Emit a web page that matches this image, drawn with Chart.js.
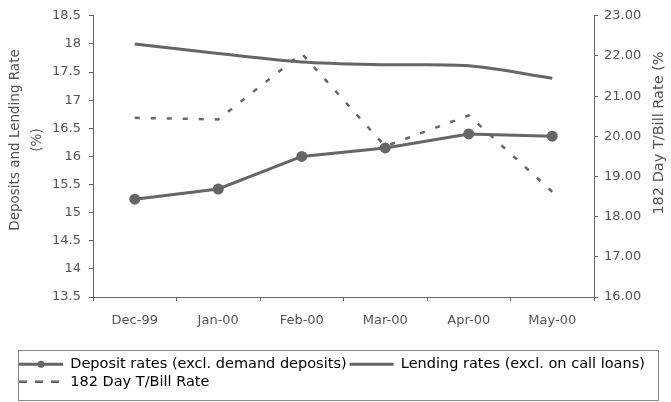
<!DOCTYPE html>
<html>
<head>
<meta charset="utf-8">
<script src="https://cdn.jsdelivr.net/npm/chart.js@4.4.1/dist/chart.umd.min.js"></script>
<style>
  html, body { margin: 0; padding: 0; background: #fff; }
  #wrap { width: 671px; height: 402px; }
</style>
</head>
<body>
<div id="wrap"><canvas id="chart-rates" width="671" height="402"></canvas></div>
<script>
// data
const months = ['Dec-99', 'Jan-00', 'Feb-00', 'Mar-00', 'Apr-00', 'May-00'];
const depositRates = [15.24, 15.42, 16.0, 16.15, 16.4, 16.36];
const lendingRates = [18.0, 17.83, 17.68, 17.63, 17.61, 17.39];
const tbillRates = [20.46, 20.42, 22.06, 19.75, 20.52, 18.62];

const leftTicks = { min: 13.5, max: 18.5, step: 0.5 };
const rightTicks = { min: 16, max: 23, step: 1 };

const ink = '#666';
const textInk = '#555';
const font = { family: 'DejaVu Sans', size: 13 };

// axis titles, legend frame and legend marker
const extras = {
    id: 'extras',
    afterDraw(chart) {
        const ctx = chart.ctx;
        const legend = chart.legend;
        ctx.save();
        ctx.strokeStyle = '#888';
        ctx.lineWidth = 1;
        ctx.strokeRect(18.5, legend.top - 3.5, 640, 50);

        const box = legend.legendHitBoxes[0];
        ctx.fillStyle = ink;
        ctx.beginPath();
        ctx.arc(box.left + 22, box.top + box.height / 2, 3.5, 0, Math.PI * 2);
        ctx.fill();

        ctx.fillStyle = textInk;
        ctx.textAlign = 'center';
        ctx.textBaseline = 'middle';

        ctx.save();
        ctx.translate(0, 140);
        ctx.rotate(-Math.PI / 2);
        ctx.font = '13.5px "DejaVu Sans"';
        ctx.fillText('Deposits and Lending Rate', 0, 15);
        ctx.fillText('(%)', 0, 37);
        ctx.restore();

        ctx.translate(659, 133);
        ctx.rotate(-Math.PI / 2);
        ctx.font = '14.5px "DejaVu Sans"';
        ctx.fillText('182 Day T/Bill Rate (%', 0, 0);
        ctx.restore();
    }
};

new Chart(document.getElementById('chart-rates'), {
    type: 'line',
    data: {
        labels: months,
        datasets: [{
            label: 'Deposit rates (excl. demand deposits)',
            data: depositRates,
            yAxisID: 'y',
            borderColor: ink,
            backgroundColor: ink,
            borderWidth: 3,
            pointRadius: 4,
            tension: 0
        }, {
            label: 'Lending rates (excl. on call loans)',
            data: lendingRates,
            yAxisID: 'y',
            borderColor: ink,
            borderWidth: 3,
            pointRadius: 0,
            tension: 0.3
        }, {
            label: '182 Day T/Bill Rate',
            data: tbillRates,
            yAxisID: 'y1',
            borderColor: ink,
            borderWidth: 2.5,
            borderDash: [5, 11],
            pointRadius: 0,
            tension: 0
        }]
    },
    options: {
        responsive: false,
        animation: false,
        layout: { padding: { top: 15, bottom: 3, left: 16, right: 0 } },
        plugins: {
            tooltip: { enabled: false },
            legend: {
                position: 'bottom',
                align: 'start',
                labels: {
                    color: textInk,
                    font: { family: 'DejaVu Sans', size: 14.5, lineHeight: 1.1 },
                    boxWidth: 44,
                    boxHeight: 0,
                    padding: 3,
                    generateLabels(chart) {
                        return chart.data.datasets.map((ds, i) => ({
                            text: ds.label,
                            fillStyle: 'rgba(0,0,0,0)',
                            strokeStyle: ink,
                            lineWidth: ds.borderWidth,
                            lineDash: ds.borderDash || [],
                            datasetIndex: i
                        }));
                    }
                }
            }
        },
        scales: {
            x: {
                offset: true,
                border: { color: ink },
                grid: { offset: true, drawOnChartArea: false, tickLength: 4, color: ink },
                ticks: { color: textInk, font, padding: 12, maxRotation: 0 },
                afterFit(s) { s.height = 57; }
            },
            y: {
                position: 'left',
                min: leftTicks.min,
                max: leftTicks.max,
                border: { color: ink },
                grid: { drawOnChartArea: false, tickLength: 4, color: ink },
                ticks: {
                    stepSize: leftTicks.step,
                    color: textInk,
                    font,
                    padding: 8,
                    callback: (v) => String(v)
                },
                afterFit(s) { s.width = 77; }
            },
            y1: {
                position: 'right',
                min: rightTicks.min,
                max: rightTicks.max,
                border: { color: ink },
                grid: { drawOnChartArea: false, tickLength: 4, color: ink },
                ticks: {
                    stepSize: rightTicks.step,
                    color: textInk,
                    font,
                    padding: 6,
                    callback: (v) => v.toFixed(2)
                },
                afterFit(s) { s.width = 77; }
            }
        }
    },
    plugins: [extras]
});
</script>
</body>
</html>
